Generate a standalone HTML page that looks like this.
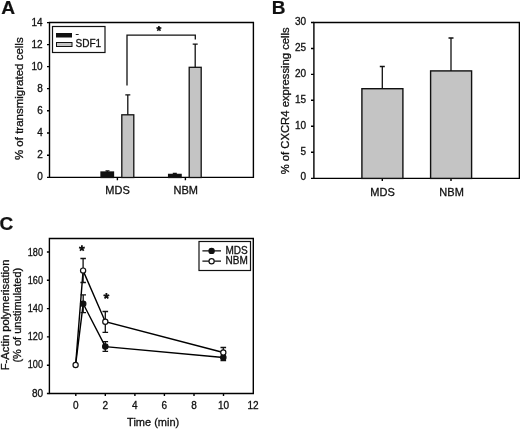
<!DOCTYPE html>
<html><head><meta charset="utf-8"><style>
html,body{margin:0;padding:0;background:#fff;width:520px;height:429px;overflow:hidden}
svg{display:block;filter:grayscale(1)}
text{font-family:"Liberation Sans",sans-serif;fill:#111;stroke:#111;stroke-width:0.3px}
.b{stroke-width:0.2px}
.b{font-weight:bold}
.t{font-size:10px}
.l{font-size:11px}
</style></head><body>
<svg width="520" height="429" viewBox="0 0 520 429">
<rect width="520" height="429" fill="#fff"/>
<!-- ============ PANEL A ============ -->
<text class="b" x="1.3" y="13.7" font-size="19.2">A</text>
<g stroke="#000" stroke-width="1.4" fill="none">
  <path d="M49.5,22.5 H253.4 V177.4 H49.5 Z"/>
  <path d="M47,22.6 H49.5 M47,44.6 H49.5 M47,66.6 H49.5 M47,88.6 H49.5 M47,110.8 H49.5 M47,133 H49.5 M47,155.2 H49.5 M47,177.4 H49.5"/>
  <path d="M117.4,177.5 V180.3 M185.4,177.5 V180.3"/>
</g>
<g class="t" text-anchor="end">
  <text x="42.7" y="25.9">14</text>
  <text x="42.7" y="47.9">12</text>
  <text x="42.7" y="69.9">10</text>
  <text x="42.7" y="91.9">8</text>
  <text x="42.7" y="113.9">6</text>
  <text x="42.7" y="135.9">4</text>
  <text x="42.7" y="157.9">2</text>
  <text x="42.7" y="179.9">0</text>
</g>
<text class="l" style="font-size:11.5px" transform="translate(23.3,98.7) rotate(-90)" text-anchor="middle">% of transmigrated cells</text>
<!-- legend A -->
<rect x="52.5" y="26.5" width="52.5" height="26" fill="none" stroke="#111" stroke-width="1.2"/>
<rect x="56" y="33" width="16" height="4.5" fill="#111"/>
<rect x="56.5" y="42.5" width="15.5" height="4" fill="#c4c4c4" stroke="#111" stroke-width="1"/>
<text class="t" x="75.5" y="36.6">-</text>
<text class="t" x="75.5" y="46.8">SDF1</text>
<!-- bars A -->
<g stroke="#111" stroke-width="1.3">
  <rect x="101" y="172" width="12.5" height="5.5" fill="#111"/>
  <rect x="121.8" y="114.8" width="12" height="62.7" fill="#c4c4c4"/>
  <rect x="168.6" y="174.4" width="12.5" height="3.1" fill="#111"/>
  <rect x="189.2" y="67.3" width="12" height="110.2" fill="#c4c4c4"/>
</g>
<g stroke="#111" stroke-width="1.3" fill="none">
  <path d="M127.8,114.8 V94.8 M125.3,94.8 H130.3"/>
  <path d="M195.2,67.3 V44.2 M192.7,44.2 H197.7"/>
  <path d="M105.5,170.8 H109.5 M107.3,170.8 V172"/>
  <path d="M172.8,173.4 H176.8"/>
  <path d="M127,85.6 V35.2 H195.3 V39.6"/>
</g>
<path d="M158.90,28.60 L158.90,26.00 M158.90,28.60 L161.37,27.80 M158.90,28.60 L160.43,30.70 M158.90,28.60 L157.37,30.70 M158.90,28.60 L156.43,27.80" stroke="#111" stroke-width="1.6" fill="none"/>
<g class="t" text-anchor="middle" style="font-size:11px">
  <text x="117.6" y="194.2">MDS</text>
  <text x="185.8" y="194.2">NBM</text>
</g>

<!-- ============ PANEL B ============ -->
<text class="b" x="271.8" y="13.9" font-size="19">B</text>
<g stroke="#000" stroke-width="1.4" fill="none">
  <path d="M313.9,22.5 H519.4 V178.4 H313.9 Z"/>
  <path d="M311,22.5 H313.9 M311,48.5 H313.9 M311,74.4 H313.9 M311,100.3 H313.9 M311,126.3 H313.9 M311,152.3 H313.9 M311,178.4 H313.9"/>
  <path d="M382.3,178.4 V181 M451,178.4 V181"/>
</g>
<g class="t" text-anchor="end">
  <text x="306" y="24.5">30</text>
  <text x="306" y="50.5">25</text>
  <text x="306" y="76.5">20</text>
  <text x="306" y="102.5">15</text>
  <text x="306" y="128.5">10</text>
  <text x="306" y="154.5">5</text>
  <text x="306" y="180.0">0</text>
</g>
<text class="l" style="font-size:11.25px" transform="translate(288.7,100.8) rotate(-90)" text-anchor="middle">% of CXCR4 expressing cells</text>
<g stroke="#111" stroke-width="1.4">
  <rect x="361.9" y="88.7" width="41" height="89.7" fill="#c4c4c4"/>
  <rect x="430.6" y="70.9" width="41" height="107.5" fill="#c4c4c4"/>
</g>
<g stroke="#111" stroke-width="1.3" fill="none">
  <path d="M382.3,88.7 V66.5 M379.8,66.5 H384.8"/>
  <path d="M451,70.9 V38 M448.5,38 H453.5"/>
</g>
<g class="t" text-anchor="middle" style="font-size:11px">
  <text x="382.6" y="196">MDS</text>
  <text x="451.6" y="196">NBM</text>
</g>

<!-- ============ PANEL C ============ -->
<text class="b" x="-0.4" y="229.6" font-size="19">C</text>
<g stroke="#000" stroke-width="1.4" fill="none">
  <path d="M49.4,238.5 H253.3 V393.5 H49.4 Z"/>
  <path d="M46.9,252 H49.4 M46.9,280.3 H49.4 M46.9,308.6 H49.4 M46.9,336.9 H49.4 M46.9,365.2 H49.4 M46.9,393.5 H49.4"/>
  <path d="M75.8,393.5 V396 M105.3,393.5 V396 M134.9,393.5 V396 M164.4,393.5 V396 M194,393.5 V396 M223.5,393.5 V396"/>
</g>
<g class="t" text-anchor="end">
  <text x="43" y="255.5" textLength="15.2" lengthAdjust="spacingAndGlyphs">180</text>
  <text x="43" y="283.6" textLength="15.2" lengthAdjust="spacingAndGlyphs">160</text>
  <text x="43" y="311.7" textLength="15.2" lengthAdjust="spacingAndGlyphs">140</text>
  <text x="43" y="339.8" textLength="15.2" lengthAdjust="spacingAndGlyphs">120</text>
  <text x="43" y="367.9" textLength="15.2" lengthAdjust="spacingAndGlyphs">100</text>
  <text x="43" y="396.8">80</text>
</g>
<g class="t" text-anchor="middle">
  <text x="75.8" y="409">0</text>
  <text x="105.3" y="409">2</text>
  <text x="134.9" y="409">4</text>
  <text x="164.4" y="409">6</text>
  <text x="194" y="409">8</text>
  <text x="223.5" y="409">10</text>
  <text x="253" y="409">12</text>
</g>
<text class="l" x="153.2" y="426" text-anchor="middle">Time (min)</text>
<text class="l" style="font-size:11.2px" transform="translate(9.4,314.9) rotate(-90)" text-anchor="middle">F-Actin polymerisation</text>
<text class="l" transform="translate(20.8,315.2) rotate(-90)" text-anchor="middle">(% of unstimulated)</text>
<!-- data lines -->
<g stroke="#000" stroke-width="1.4" fill="none">
  <path d="M75.6,365 L83.2,303.8 L105.3,346.6 L223.3,357.5"/>
  <path d="M75.6,365 L83.1,270.6 L105.3,321.7 L223.3,352.5"/>
</g>
<!-- error bars -->
<g stroke="#111" stroke-width="1.3" fill="none">
  <path d="M83.1,270.6 V258.5 M80.4,258.5 H85.9 M83.1,270.6 V282.5 M80.4,282.5 H85.9"/>
  <path d="M83.2,303.8 V294.8 M80.5,294.8 H86 M83.2,303.8 V312.6 M80.5,312.6 H86"/>
  <path d="M105.3,321.7 V311.5 M102.5,311.5 H108.1 M105.3,321.7 V332.4 M102.5,332.4 H108.1"/>
  <path d="M105.3,346.6 V341.6 M102.5,341.6 H108.1 M105.3,346.6 V351.3 M102.5,351.3 H108.1"/>
  <path d="M223.3,352.5 V347.5 M220.5,347.5 H226.1"/>
  <path d="M223.3,357.5 V360.6 M220.5,360.6 H226.1"/>
</g>
<!-- points -->
<g stroke="#111" stroke-width="1.2">
  <circle cx="83.2" cy="303.8" r="2.7" fill="#111"/>
  <circle cx="105.3" cy="346.6" r="2.7" fill="#111"/>
  <circle cx="223.3" cy="357.5" r="2.7" fill="#111"/>
  <circle cx="75.6" cy="365" r="2.6" fill="#fff"/>
  <circle cx="83.1" cy="270.6" r="2.6" fill="#fff"/>
  <circle cx="105.3" cy="321.7" r="2.6" fill="#fff"/>
  <circle cx="223.3" cy="352.5" r="2.6" fill="#fff"/>
</g>
<path d="M81.90,248.30 L81.90,245.30 M81.90,248.30 L84.75,247.37 M81.90,248.30 L83.66,250.73 M81.90,248.30 L80.14,250.73 M81.90,248.30 L79.05,247.37" stroke="#111" stroke-width="1.8" fill="none"/>
<path d="M106.40,296.00 L106.40,293.00 M106.40,296.00 L109.25,295.07 M106.40,296.00 L108.16,298.43 M106.40,296.00 L104.64,298.43 M106.40,296.00 L103.55,295.07" stroke="#111" stroke-width="1.8" fill="none"/>
<!-- legend C -->
<rect x="199" y="241.5" width="51.5" height="29" fill="none" stroke="#111" stroke-width="1.2"/>
<g stroke="#111" stroke-width="1.2">
  <path d="M202.4,250.9 H221 M202.4,261.2 H221"/>
  <circle cx="211.6" cy="250.9" r="2.6" fill="#111"/>
  <circle cx="211.6" cy="261.2" r="2.6" fill="#fff"/>
</g>
<text class="t" x="225.5" y="253.5">MDS</text>
<text class="t" x="225.5" y="264">NBM</text>
</svg>
</body></html>
